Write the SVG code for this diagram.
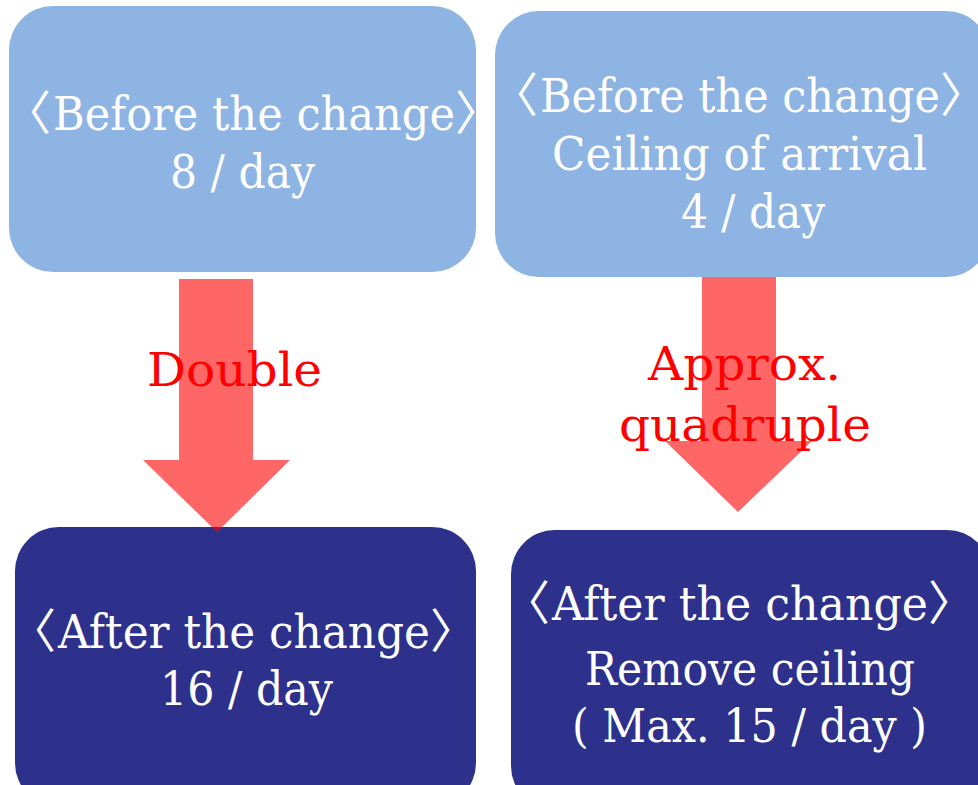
<svg xmlns="http://www.w3.org/2000/svg" width="978" height="785" viewBox="0 0 978 785">
<style>
.before{fill:#8EB4E3}
.after{fill:#2E318B}
.t{font-family:"DejaVu Serif","Liberation Serif","Noto Sans CJK JP",serif;font-size:47px;fill:#ffffff}
.lbl{font-family:"DejaVu Serif","Liberation Serif",serif;font-size:47px;fill:#ff0000}
.arrow{fill:#ff0000;fill-opacity:0.6}
</style>
<rect width="978" height="785" fill="#ffffff"/>
<g id="before1">
<rect class="before" x="9" y="6" width="467" height="266" rx="44"/>
<text class="t"><tspan x="4" y="130">〈</tspan><tspan x="53" y="130" textLength="402" lengthAdjust="spacingAndGlyphs">Before the change</tspan><tspan x="455" y="130">〉</tspan></text>
<text class="t" x="170" y="188" textLength="145" lengthAdjust="spacingAndGlyphs">8 / day</text>
</g>
<g id="before2">
<rect class="before" x="495" y="11" width="495" height="266" rx="44"/>
<text class="t"><tspan x="491" y="112">〈</tspan><tspan x="540" y="112" textLength="400" lengthAdjust="spacingAndGlyphs">Before the change</tspan><tspan x="940" y="112">〉</tspan></text>
<text class="t" x="552" y="170" textLength="375" lengthAdjust="spacingAndGlyphs">Ceiling of arrival</text>
<text class="t" x="681" y="228" textLength="144" lengthAdjust="spacingAndGlyphs">4 / day</text>
</g>
<g id="after1">
<rect class="after" x="15" y="527" width="461" height="280" rx="44"/>
<text class="t"><tspan x="9" y="648">〈</tspan><tspan x="58" y="648" textLength="372" lengthAdjust="spacingAndGlyphs">After the change</tspan><tspan x="430" y="648">〉</tspan></text>
<text class="t" x="160" y="705" textLength="173" lengthAdjust="spacingAndGlyphs">16 / day</text>
</g>
<g id="after2">
<rect class="after" x="511" y="530" width="480" height="280" rx="44"/>
<text class="t"><tspan x="503" y="620">〈</tspan><tspan x="552" y="620" textLength="376" lengthAdjust="spacingAndGlyphs">After the change</tspan><tspan x="928" y="620">〉</tspan></text>
<text class="t" x="585" y="685" textLength="330" lengthAdjust="spacingAndGlyphs">Remove ceiling</text>
<text class="t" x="572" y="742" textLength="355" lengthAdjust="spacingAndGlyphs">( Max. 15 / day )</text>
</g>
<g id="connectors">
<polygon class="arrow" points="179,279 253,279 253,460 290,460 217,532 143,460 179,460"/>
<polygon class="arrow" points="702,277 776,277 776,441 812,441 738,512 665,441 702,441"/>
</g>
<g id="labels">
<text class="lbl" x="147" y="386" textLength="175" lengthAdjust="spacingAndGlyphs">Double</text>
<text class="lbl" x="648" y="380" textLength="193" lengthAdjust="spacingAndGlyphs">Approx.</text>
<text class="lbl" x="619" y="441" textLength="252" lengthAdjust="spacingAndGlyphs">quadruple</text>
</g>
</svg>
